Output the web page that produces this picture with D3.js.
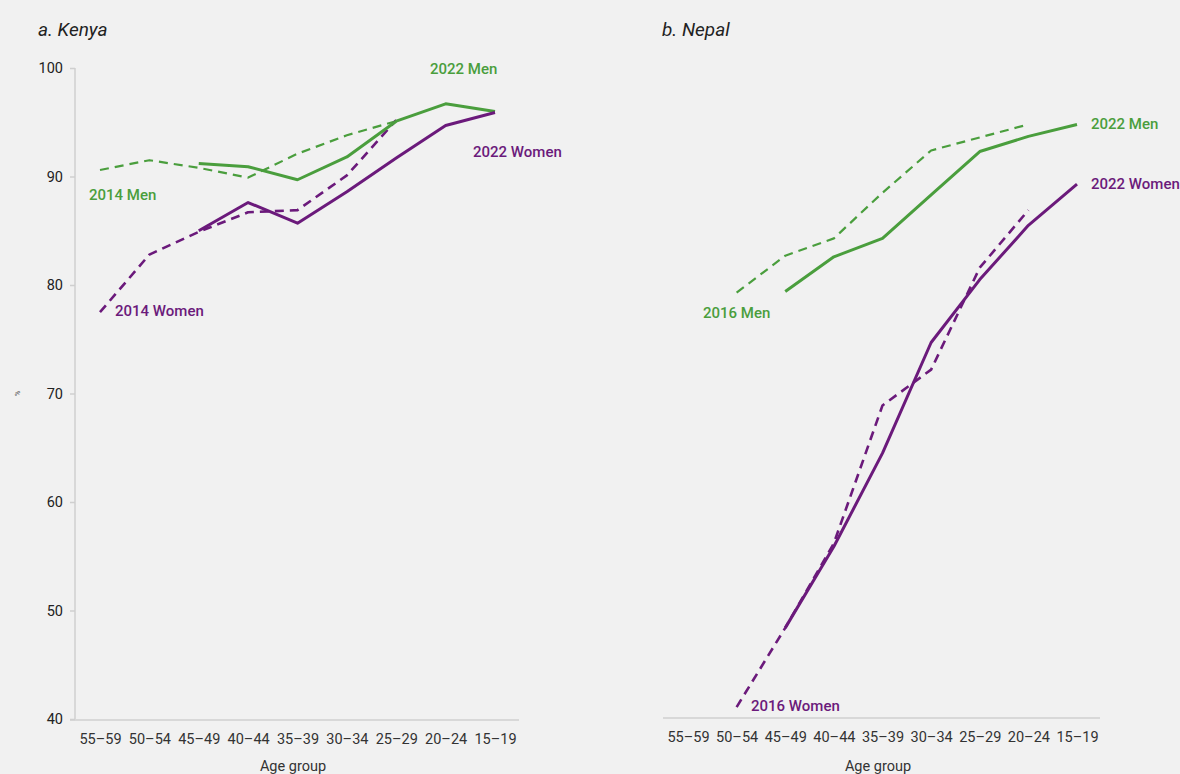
<!DOCTYPE html>
<html>
<head>
<meta charset="utf-8">
<script src="https://cdn.jsdelivr.net/npm/d3@7"></script>
<style>
  html, body { margin: 0; padding: 0; background: #f1f1f1; }
  svg { display: block; font-family: Roboto, "Noto Sans", sans-serif; }
</style>
</head>
<body>
<svg id="chart" width="1180" height="774"></svg>
<script>
// ---------- DATA ----------
const ageGroups = ["55–59","50–54","45–49","40–44","35–39","30–34","25–29","20–24","15–19"];
const yTicks = [40, 50, 60, 70, 80, 90, 100];

// Kenya (null = no data)
const kenyaMen2014   = [90.6, 91.5, 90.8, 89.9, 92.1, 93.8, 95.1, null, null];
const kenyaMen2022   = [null, null, 91.2, 90.9, 89.7, 91.8, 95.1, 96.7, 96.0];
const kenyaWomen2014 = [77.5, 82.8, 84.9, 86.7, 86.9, 90.1, 95.2, null, null];
const kenyaWomen2022 = [null, null, 85.0, 87.6, 85.7, 88.6, 91.7, 94.7, 95.9];

// Nepal
const nepalMen2016   = [null, 79.3, 82.7, 84.3, 88.5, 92.4, 93.6, 94.8, null];
const nepalMen2022   = [null, null, 79.4, 82.6, 84.3, 88.3, 92.3, 93.7, 94.8];
const nepalWomen2016 = [null, 41.1, 48.4, 56.2, 68.9, 72.2, 81.6, 86.9, null];
const nepalWomen2022 = [null, null, 48.4, 55.9, 64.5, 74.7, 80.5, 85.5, 89.3];

const GREEN = "#4a9e3d";
const PURPLE = "#6b1a7b";

// ---------- DRAW ----------
const svg = d3.select("#chart");
const y = d3.scaleLinear().domain([40, 100]).range([719, 68]);

function panel(opts) {
  const x = d3.scalePoint().domain(ageGroups).range(opts.xRange).padding(0);
  const g = svg.append("g");

  g.append("text").attr("x", opts.titleX).attr("y", 36)
    .attr("font-size", 19).attr("font-style", "italic").attr("fill", "#222")
    .text(opts.title);

  g.append("line").attr("x1", opts.axisX[0]).attr("x2", opts.axisX[1])
    .attr("y1", opts.axisY).attr("y2", opts.axisY)
    .attr("stroke", "#cfcfcf").attr("stroke-width", 1.5);

  const xa = g.append("g").attr("transform", `translate(0,${opts.axisY})`)
    .call(d3.axisBottom(x).tickSize(0).tickPadding(14));
  xa.select(".domain").remove();
  xa.selectAll("text").attr("font-size", 14.5).attr("fill", "#333")
    .attr("font-family", "Roboto, sans-serif");

  g.append("text").attr("x", opts.axisLabelX).attr("y", 771)
    .attr("text-anchor", "middle").attr("font-size", 14.5).attr("fill", "#333")
    .text("Age group");

  if (opts.yAxis) {
    const ya = g.append("g").attr("transform", `translate(75,0)`)
      .call(d3.axisLeft(y).tickValues(yTicks).tickSize(5).tickPadding(7));
    ya.select(".domain").attr("stroke", "#cfcfcf").attr("stroke-width", 1.5)
      .attr("d", `M0,${y(100)}V${y(40)}`);
    ya.selectAll(".tick line").attr("stroke", "#cfcfcf").attr("stroke-width", 1.5);
    ya.selectAll("text").attr("font-size", 14.5).attr("fill", "#222")
      .attr("font-family", "Roboto, sans-serif");
    g.append("text").attr("transform", `translate(20,${y(70)}) rotate(-90)`)
      .attr("text-anchor", "middle").attr("font-size", 7).attr("fill", "#444")
      .text("%");
  }

  const line = d3.line()
    .defined(d => d.v != null)
    .x(d => x(d.c)).y(d => y(d.v));

  opts.series.forEach(s => {
    const pts = ageGroups.map((c, i) => ({c, v: s.values[i]}));
    g.append("path").datum(pts)
      .attr("d", line)
      .attr("fill", "none")
      .attr("stroke", s.color)
      .attr("stroke-width", s.dashed ? (s.color === PURPLE ? 2.6 : 2.2) : 3)
      .attr("stroke-dasharray", s.dashed ? "9,6" : null)
      .attr("stroke-linejoin", "round");
  });

  opts.labels.forEach(l => {
    g.append("text").attr("x", l.x).attr("y", l.y)
      .attr("font-size", 15).attr("font-weight", 500).attr("fill", l.color)
      .text(l.text);
  });
}

panel({
  title: "a. Kenya", titleX: 38,
  xRange: [100, 495], axisX: [70, 519], axisY: 720, axisLabelX: 293, yAxis: true,
  series: [
    {values: kenyaMen2014, color: GREEN, dashed: true},
    {values: kenyaWomen2014, color: PURPLE, dashed: true},
    {values: kenyaMen2022, color: GREEN, dashed: false},
    {values: kenyaWomen2022, color: PURPLE, dashed: false}
  ],
  labels: [
    {text: "2022 Men", x: 430, y: 74, color: GREEN},
    {text: "2022 Women", x: 473, y: 157, color: PURPLE},
    {text: "2014 Men", x: 89, y: 200, color: GREEN},
    {text: "2014 Women", x: 115, y: 316, color: PURPLE}
  ]
});

panel({
  title: "b. Nepal", titleX: 662,
  xRange: [688, 1077], axisX: [663, 1100], axisY: 718, axisLabelX: 878, yAxis: false,
  series: [
    {values: nepalMen2016, color: GREEN, dashed: true},
    {values: nepalWomen2016, color: PURPLE, dashed: true},
    {values: nepalMen2022, color: GREEN, dashed: false},
    {values: nepalWomen2022, color: PURPLE, dashed: false}
  ],
  labels: [
    {text: "2022 Men", x: 1091, y: 129, color: GREEN},
    {text: "2022 Women", x: 1091, y: 189, color: PURPLE},
    {text: "2016 Men", x: 703, y: 318, color: GREEN},
    {text: "2016 Women", x: 751, y: 711, color: PURPLE}
  ]
});
</script>
</body>
</html>
